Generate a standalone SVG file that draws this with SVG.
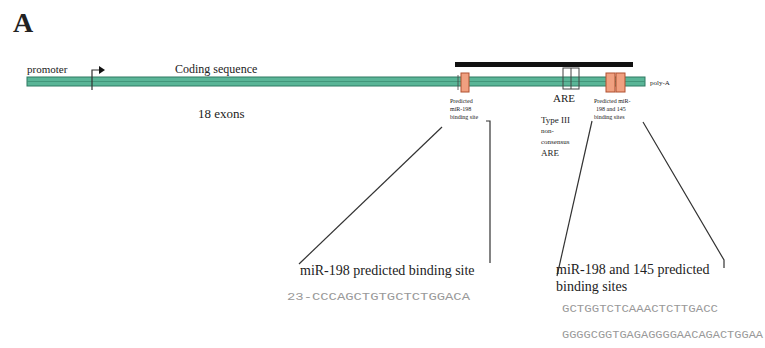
<svg xmlns="http://www.w3.org/2000/svg" width="765" height="348" viewBox="0 0 765 348">
<style>
.s{font-family:"Liberation Serif","Times New Roman",serif;fill:#222}
.m{font-family:"Liberation Mono","Courier New",monospace;fill:#999}
.ln{stroke:#333;stroke-width:1.2;fill:none}
.site{fill:#f0a080;stroke:#b05030;stroke-width:1}
</style>
<rect width="765" height="348" fill="#fff"/>
<text class="s" x="13" y="32" font-size="28" font-weight="bold">A</text>
<g id="gene">
<rect x="27" y="77" width="618" height="9" fill="#5ab597" stroke="#2f7a62" stroke-width="1"/>
<line x1="27" y1="81.5" x2="645" y2="81.5" stroke="#3d8f74" stroke-width="0.8"/>
</g>
<g id="promoter">
<text class="s" x="27" y="73" font-size="11">promoter</text>
<path d="M92 90 V70 H100" class="ln"/>
<polygon points="99,66 105,70 99,74" fill="#111"/>
</g>
<g id="coding">
<text class="s" x="175" y="73" font-size="12">Coding sequence</text>
<text class="s" x="198" y="118" font-size="13">18 exons</text>
</g>
<g id="region">
<rect x="455" y="62" width="178" height="5" fill="#111"/>
</g>
<g id="site1">
<rect class="site" x="461" y="73" width="8" height="19"/>
<line x1="458" y1="75" x2="458" y2="90" stroke="#444" stroke-width="0.8"/>
<text class="s" x="450" y="103" font-size="6">Predicted</text>
<text class="s" x="450" y="111" font-size="6">miR-198</text>
<text class="s" x="450" y="119" font-size="6">binding site</text>
</g>
<g id="are">
<rect x="563" y="68" width="16" height="21" fill="none" stroke="#444" stroke-width="1"/>
<line x1="571" y1="68" x2="571" y2="89" stroke="#444" stroke-width="1"/>
<text class="s" x="553" y="102" font-size="11">ARE</text>
<text class="s" x="541" y="123" font-size="9">Type III</text>
<text class="s" x="541" y="133" font-size="7">non-</text>
<text class="s" x="541" y="144" font-size="7">consensus</text>
<text class="s" x="541" y="156" font-size="9">ARE</text>
</g>
<g id="site2">
<rect class="site" x="606" y="73" width="9" height="19"/>
<rect class="site" x="616" y="73" width="9" height="19"/>
<text class="s" x="594" y="103" font-size="6">Predicted miR-</text>
<text class="s" x="596" y="111" font-size="6">198 and 145</text>
<text class="s" x="594" y="119" font-size="6">binding sites</text>
</g>
<g id="polyA">
<text class="s" x="650" y="85" font-size="7">poly-A</text>
</g>
<g id="connectors">
<line class="ln" x1="442" y1="127" x2="299" y2="264"/>
<path class="ln" d="M486 121 H490 V263"/>
<line class="ln" x1="592" y1="121" x2="557" y2="276"/>
<path class="ln" d="M643 122 L724 260 V268"/>
</g>
<g id="label1">
<text class="s" x="300" y="275" font-size="14">miR-198 predicted binding site</text>
<text class="m" x="287" y="300" font-size="11" textLength="183" lengthAdjust="spacingAndGlyphs">23-CCCAGCTGTGCTCTGGACA</text>
</g>
<g id="label2">
<text class="s" x="556" y="274" font-size="14">miR-198 and 145 predicted</text>
<text class="s" x="556" y="291" font-size="14">binding sites</text>
<text class="m" x="562" y="312" font-size="11" textLength="156" lengthAdjust="spacingAndGlyphs">GCTGGTCTCAAACTCTTGACC</text>
<text class="m" x="562" y="338" font-size="11" textLength="201" lengthAdjust="spacingAndGlyphs">GGGGCGGTGAGAGGGGAACAGACTGGAA</text>
</g>
</svg>
